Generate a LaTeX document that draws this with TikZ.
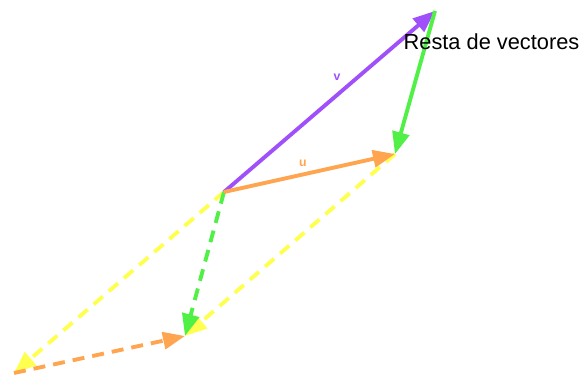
\documentclass[tikz,border=0pt]{standalone}
\usepackage{fontspec}
\setmainfont{Liberation Sans}
\usetikzlibrary{arrows.meta}

\definecolor{vpurple}{RGB}{160,80,250}
\definecolor{uorange}{RGB}{255,165,80}
\definecolor{dgreen}{RGB}{80,240,70}
\definecolor{dyellow}{RGB}{255,255,80}

\tikzset{
    vec/.style={line width=2.2pt, -{Triangle[length=0.44cm,width=0.34cm]}},
    dashvec/.style={vec, dash pattern=on 0.24cm off 0.16cm},
    lbl/.style={font=\fontsize{7}{8}\selectfont\bfseries}
}

\begin{document}
\begin{tikzpicture}
    \useasboundingbox (0,0) rectangle (11.62,-7.54);

    % Define the points
    \coordinate (O) at (4.48,-3.84);
    \coordinate (U) at (7.90,-3.08);
    \coordinate (V) at (8.70,-0.22);
    \coordinate (P) at (3.70,-6.72);
    \coordinate (Q) at (0.28,-7.46);

    % Dashed construction
    \draw[dashvec, dyellow] (O) -- (Q);
    \draw[dashvec, dyellow] (U) -- (P);
    \draw[dashvec, uorange] (Q) -- (P);
    \draw[dashvec, dgreen] (O) -- (P);

    % The vectors
    \draw[vec, vpurple] (O) -- (V);
    \draw[vec, uorange] (O) -- (U);
    \draw[vec, dgreen] (V) -- (U);

    % Labels
    \node[lbl, text=vpurple] (vlab) at (6.74,-1.54) {v};
    \node[lbl, text=uorange] (ulab) at (6.06,-3.26) {u};
    \node[font=\fontsize{12.4}{14}\selectfont] (title) at (9.83,-0.84) {Resta de vectores};

\end{tikzpicture}
\end{document}
